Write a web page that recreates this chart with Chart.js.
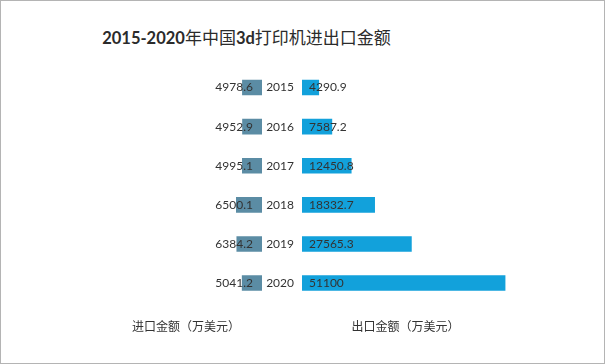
<!DOCTYPE html>
<html>
<head>
<meta charset="utf-8">
<script src="https://cdn.jsdelivr.net/npm/chart.js@4"></script>
<style>
  html, body { margin: 0; padding: 0; background: #fff; }
  #page { position: relative; width: 605px; height: 364px; overflow: hidden; }
  #frame { position: absolute; left: 0; top: 0; width: 605px; height: 364px; box-sizing: border-box; border: 1px solid #b4b4b4; pointer-events: none; }
  #title { position: absolute; left: 0; top: 26px; width: 493px; text-align: center; line-height: 22px;
           font-family: "Noto Sans CJK SC", sans-serif; font-size: 17px; color: #2b2b2b; }
  #title .n { font-family: Lato, sans-serif; font-weight: bold; font-size: 16.5px; }
  #leftChart { position: absolute; left: 0; top: 0; }
  #rightChart { position: absolute; left: 240px; top: 0; }
</style>
</head>
<body>
<div id="page">
  <div id="title"><span class="n">2015-2020</span>年中国<span class="n">3d</span>打印机进出口金额</div>
  <canvas id="leftChart" width="262" height="364"></canvas>
  <canvas id="rightChart" width="365" height="364"></canvas>
  <div id="frame"></div>
</div>
<script>
// ================= DATA =================
const years = ["2015", "2016", "2017", "2018", "2019", "2020"];
const importValues = [4978.6, 4952.9, 4995.1, 6500.1, 6384.2, 5041.2];
const exportValues = [4290.9, 7587.2, 12450.8, 18332.7, 27565.3, 51100];

const importLabel = "进口金额（万美元）";
const exportLabel = "出口金额（万美元）";

const IMPORT_COLOR = "#5b8ca4";
const EXPORT_COLOR = "#12a1db";
const TEXT_COLOR = "#333333";

// ================= VALUE LABELS =================
// draws the value near the base of each bar (like excel "inside base")
const valueLabels = {
  id: "valueLabels",
  afterDatasetsDraw(chart, args, opts) {
    const ctx = chart.ctx;
    const meta = chart.getDatasetMeta(0);
    const data = chart.data.datasets[0].data;
    ctx.save();
    ctx.font = "12px Lato, sans-serif";
    ctx.fillStyle = TEXT_COLOR;
    ctx.textBaseline = "middle";
    meta.data.forEach((bar, i) => {
      const base = bar.base;
      if (opts.side === "left") {
        ctx.textAlign = "right";
        ctx.fillText(String(data[i]), base - 9, bar.y);
      } else {
        ctx.textAlign = "left";
        ctx.fillText(String(data[i]), base + 7, bar.y);
      }
    });
    ctx.restore();
  },
};

function axisTitle(text) {
  return {
    display: true,
    text: text,
    color: TEXT_COLOR,
    font: { family: "'Noto Sans CJK SC', sans-serif", size: 12 },
    padding: { top: 17, bottom: 0 },
  };
}

// ================= LEFT (IMPORT) =================
new Chart(document.getElementById("leftChart"), {
  type: "bar",
  data: {
    labels: years,
    datasets: [
      {
        data: importValues,
        backgroundColor: IMPORT_COLOR,
        barPercentage: 0.4,
        categoryPercentage: 1,
      },
    ],
  },
  options: {
    indexAxis: "y",
    responsive: false,
    animation: false,
    layout: { padding: { top: 68, bottom: 30, left: 110, right: 0 } },
    plugins: {
      legend: { display: false },
      tooltip: { enabled: false },
      valueLabels: { side: "left" },
    },
    scales: {
      x: {
        reverse: true,
        min: 0,
        max: 38000,
        ticks: { display: false },
        grid: { display: false, drawTicks: false },
        border: { display: false },
        title: axisTitle(importLabel),
      },
      y: { display: false },
    },
  },
  plugins: [valueLabels],
});

// ================= RIGHT (EXPORT) =================
new Chart(document.getElementById("rightChart"), {
  type: "bar",
  data: {
    labels: years,
    datasets: [
      {
        data: exportValues,
        backgroundColor: EXPORT_COLOR,
        barPercentage: 0.4,
        categoryPercentage: 1,
      },
    ],
  },
  options: {
    indexAxis: "y",
    responsive: false,
    animation: false,
    layout: { padding: { top: 68, bottom: 30, left: 0, right: 96 } },
    plugins: {
      legend: { display: false },
      tooltip: { enabled: false },
      valueLabels: { side: "right" },
    },
    scales: {
      x: {
        min: 0,
        max: 52000,
        ticks: { display: false },
        grid: { display: false, drawTicks: false },
        border: { display: false },
        title: axisTitle(exportLabel),
      },
      y: {
        grid: { display: false, drawTicks: false },
        border: { display: false },
        ticks: {
          color: TEXT_COLOR,
          padding: 8,
          font: { family: "Lato, sans-serif", size: 12 },
        },
        afterFit(scale) {
          scale.width = 62;
        },
      },
    },
  },
  plugins: [valueLabels],
});
</script>
</body>
</html>
